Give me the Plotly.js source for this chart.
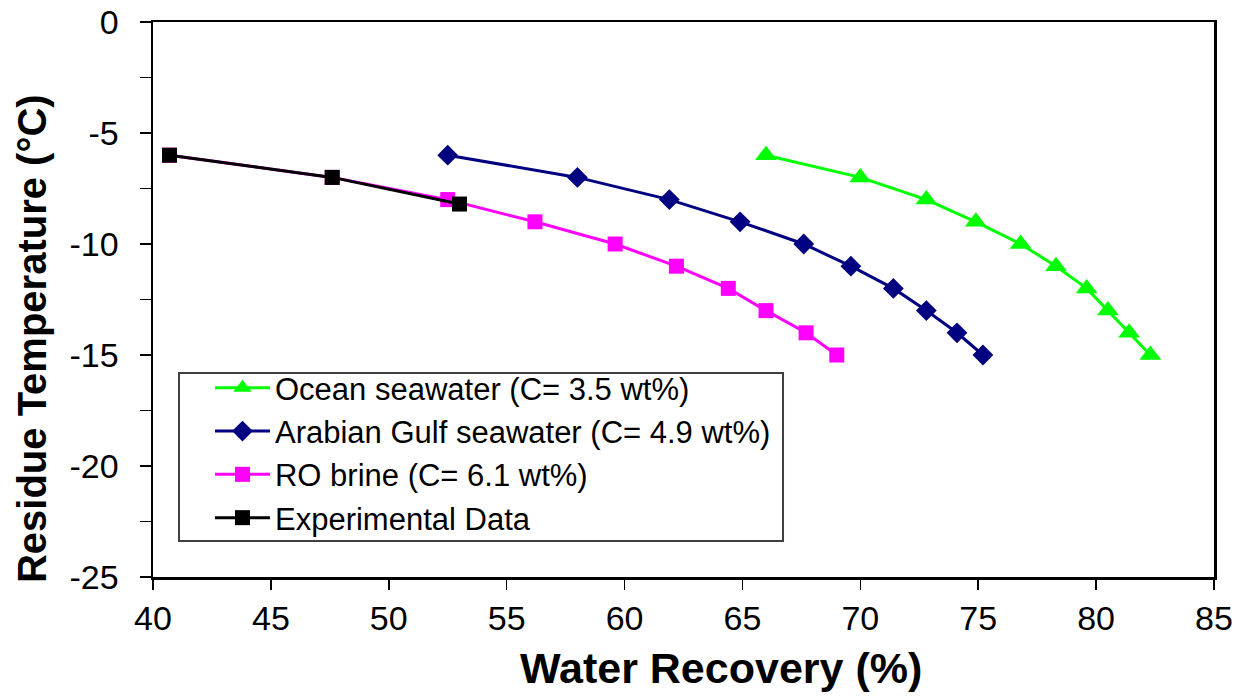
<!DOCTYPE html>
<html>
<head>
<meta charset="utf-8">
<script src="https://cdn.plot.ly/plotly-3.0.1.min.js"></script>
<style>html,body{margin:0;padding:0;background:#fff}#chart{width:1247px;height:700px}</style>
</head>
<body>
<div id="chart"></div>
<script>
// Temperature levels (°C)
const tempOcean = [-6, -7, -8, -9, -10, -11, -12, -13, -14, -15];
const recOcean  = [66.0, 70.0, 72.8, 74.9, 76.8, 78.3, 79.6, 80.5, 81.4, 82.3];

const tempGulf = [-6, -7, -8, -9, -10, -11, -12, -13, -14, -15];
const recGulf  = [52.5, 58.0, 61.9, 64.9, 67.6, 69.6, 71.4, 72.8, 74.1, 75.2];

const tempRO = [-6, -7, -8, -9, -10, -11, -12, -13, -14, -15];
const recRO  = [40.7, 47.6, 52.5, 56.2, 59.6, 62.2, 64.4, 66.0, 67.7, 69.0];

const tempExp = [-6, -7, -8.2];
const recExp  = [40.7, 47.6, 53.0];

const names = [
  'Ocean seawater (C= 3.5 wt%)',
  'Arabian Gulf seawater (C= 4.9 wt%)',
  'RO brine (C= 6.1 wt%)',
  'Experimental Data'
];
const xTicks = [40, 45, 50, 55, 60, 65, 70, 75, 80, 85];
const yTicks = [0, -5, -10, -15, -20, -25];
const xTitle = 'Water Recovery (%)';
const yTitle = 'Residue Temperature (°C)';

const FONT = 'Liberation Sans, Arial, sans-serif';

const traces = [
  {x: recOcean, y: tempOcean, name: names[0], mode: 'lines+markers',
   line: {color: '#00FF00', width: 3}, marker: {symbol: 'triangle-up', size: 19, color: '#00FF00'}},
  {x: recGulf, y: tempGulf, name: names[1], mode: 'lines+markers',
   line: {color: '#000080', width: 3}, marker: {symbol: 'diamond', size: 16, color: '#000080'}},
  {x: recRO, y: tempRO, name: names[2], mode: 'lines+markers',
   line: {color: '#FF00FF', width: 3}, marker: {symbol: 'square', size: 15, color: '#FF00FF'}},
  {x: recExp, y: tempExp, name: names[3], mode: 'lines+markers',
   line: {color: '#000000', width: 3}, marker: {symbol: 'square', size: 15, color: '#000000'}}
];

const layout = {
  width: 1247, height: 700,
  margin: {l: 153, r: 33, t: 22, b: 123},
  paper_bgcolor: '#fff', plot_bgcolor: '#fff',
  font: {family: FONT, color: '#000'},
  showlegend: true,
  legend: {
    x: 0.0537, y: 0.389, xanchor: 'left', yanchor: 'top',
    bgcolor: 'rgba(0,0,0,0)', borderwidth: 0,
    font: {family: FONT, size: 31, color: '#000'},
    tracegroupgap: 0, itemwidth: 55
  },
  shapes: [
    {type: 'rect', xref: 'paper', yref: 'paper', x0: 0.0245, x1: 0.5938, y0: 0.0649, y1: 0.3676,
     line: {color: '#404040', width: 2}, fillcolor: 'rgba(255,255,255,1)', layer: 'below'}
  ],
  annotations: [
    {text: '<b>' + xTitle + '</b>', xref: 'paper', yref: 'paper', x: 0.535, y: -0.164,
     xanchor: 'center', yanchor: 'middle', showarrow: false,
     font: {family: FONT, size: 43, color: '#000'}},
    {text: '<b>' + yTitle + '</b>', xref: 'paper', yref: 'paper', x: -0.114, y: 0.4288,
     xanchor: 'center', yanchor: 'middle', showarrow: false, textangle: -90,
     font: {family: FONT, size: 40, color: '#000'}}
  ],
  xaxis: {
    range: [40, 85], tickmode: 'array', tickvals: xTicks, ticktext: xTicks.map(String),
    showgrid: false, zeroline: false, showline: true, linecolor: '#000', linewidth: 2.5, mirror: true,
    ticks: 'outside', ticklen: 10, tickwidth: 1.5, tickcolor: '#000',
    tickfont: {family: FONT, size: 34, color: '#000'}, ticklabelstandoff: 0
  },
  yaxis: {
    range: [-25, 0], tickmode: 'array', tickvals: yTicks, ticktext: yTicks.map(String),
    showgrid: false, zeroline: false, showline: true, linecolor: '#000', linewidth: 2.5, mirror: true,
    ticks: 'outside', ticklen: 11, tickwidth: 1.5, tickcolor: '#000',
    minor: {dtick: 2.5, ticks: 'outside', ticklen: 11, tickwidth: 1.5, tickcolor: '#000', showgrid: false},
    tickfont: {family: FONT, size: 34, color: '#000'}, ticklabelstandoff: 14
  }
};

Plotly.newPlot('chart', traces, layout, {displayModeBar: false, staticPlot: true});
</script>
</body>
</html>
